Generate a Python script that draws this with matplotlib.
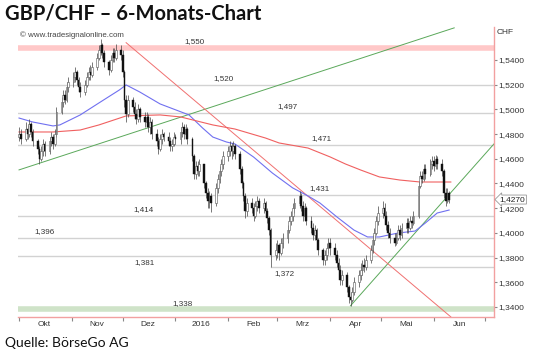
import pandas as pd
import numpy as np
import matplotlib.pyplot as plt
import matplotlib.dates as mdates
import matplotlib.transforms as mtransforms

# Tageskerzen GBP/CHF (Schlusskurs, Hoch, Tief), ab 1.10.2015, nur Handelstage
closes = [1.480, 1.476, 1.484, 1.480, 1.488, 1.482, 1.474, 1.468, 1.460, 1.466, 1.472,
          1.466, 1.474, 1.478, 1.472, 1.480, 1.498, 1.506, 1.512, 1.508, 1.518, 1.522,
          1.526, 1.530, 1.524, 1.518, 1.514, 1.520, 1.526, 1.530, 1.528, 1.534, 1.542,
          1.548, 1.552, 1.546, 1.538, 1.532, 1.540, 1.546, 1.542, 1.548, 1.544,
          1.530, 1.508, 1.496, 1.508, 1.502, 1.496, 1.492, 1.500, 1.494, 1.490, 1.494,
          1.486, 1.490, 1.480, 1.474, 1.468, 1.476, 1.480, 1.478, 1.474, 1.470, 1.472, 1.478,
          1.476, 1.482, 1.486, 1.480, 1.484, 1.476, 1.462, 1.448, 1.454, 1.450, 1.456,
          1.440, 1.432, 1.426, 1.430, 1.424, 1.436, 1.444, 1.450, 1.456, 1.462,
          1.466, 1.470, 1.466, 1.470, 1.464, 1.452, 1.440, 1.430, 1.418, 1.424, 1.420,
          1.414, 1.422, 1.426, 1.420, 1.424, 1.418, 1.412, 1.402, 1.382, 1.386,
          1.390, 1.384, 1.392, 1.396, 1.402, 1.410, 1.414, 1.420, 1.424, 1.430, 1.422,
          1.414, 1.420, 1.410, 1.404, 1.398, 1.402, 1.394, 1.386, 1.378, 1.382, 1.388, 1.392,
          1.388, 1.382, 1.376, 1.370, 1.362, 1.366, 1.356, 1.348, 1.346, 1.352, 1.360,
          1.366, 1.370, 1.374, 1.372, 1.378, 1.386, 1.394, 1.400, 1.410, 1.416,
          1.420, 1.414, 1.406, 1.400, 1.396, 1.392, 1.396, 1.402, 1.398, 1.404, 1.408,
          1.404, 1.410, 1.408, 1.414, 1.438, 1.446, 1.444, 1.452, 1.448, 1.456, 1.458,
          1.454, 1.460, 1.456, 1.450, 1.432, 1.426, 1.432, 1.427]
highs = [1.486, 1.484, 1.490, 1.487, 1.492, 1.490, 1.484, 1.476, 1.470, 1.470, 1.476,
         1.474, 1.478, 1.482, 1.480, 1.484, 1.502, 1.510, 1.516, 1.516, 1.522, 1.526,
         1.530, 1.534, 1.532, 1.526, 1.522, 1.524, 1.530, 1.534, 1.536, 1.538, 1.546,
         1.552, 1.557, 1.554, 1.548, 1.540, 1.544, 1.550, 1.550, 1.553, 1.552,
         1.548, 1.532, 1.512, 1.512, 1.510, 1.506, 1.500, 1.504, 1.502, 1.498, 1.498,
         1.496, 1.494, 1.492, 1.484, 1.478, 1.480, 1.484, 1.482, 1.482, 1.478, 1.476, 1.482,
         1.480, 1.486, 1.490, 1.488, 1.488, 1.486, 1.478, 1.464, 1.458, 1.458, 1.460,
         1.456, 1.442, 1.436, 1.434, 1.432, 1.440, 1.448, 1.454, 1.460, 1.466,
         1.470, 1.474, 1.473, 1.474, 1.472, 1.466, 1.454, 1.442, 1.432, 1.428, 1.428,
         1.424, 1.426, 1.430, 1.428, 1.428, 1.426, 1.420, 1.414, 1.404, 1.392,
         1.394, 1.392, 1.396, 1.400, 1.406, 1.414, 1.418, 1.424, 1.428, 1.434, 1.432,
         1.426, 1.424, 1.422, 1.414, 1.408, 1.406, 1.404, 1.396, 1.388, 1.386, 1.392, 1.396,
         1.396, 1.392, 1.386, 1.380, 1.374, 1.370, 1.368, 1.358, 1.352, 1.356, 1.364,
         1.370, 1.376, 1.378, 1.380, 1.382, 1.390, 1.398, 1.404, 1.414, 1.422,
         1.426, 1.424, 1.418, 1.410, 1.404, 1.400, 1.400, 1.406, 1.406, 1.408, 1.412,
         1.412, 1.414, 1.414, 1.418, 1.442, 1.450, 1.450, 1.456, 1.456, 1.460, 1.462,
         1.462, 1.463, 1.462, 1.460, 1.452, 1.436, 1.436, 1.434]
lows = [1.474, 1.472, 1.474, 1.476, 1.478, 1.478, 1.470, 1.464, 1.456, 1.458, 1.462,
        1.462, 1.464, 1.470, 1.468, 1.470, 1.478, 1.496, 1.502, 1.504, 1.506, 1.514,
        1.518, 1.522, 1.520, 1.514, 1.510, 1.512, 1.518, 1.524, 1.524, 1.526, 1.532,
        1.540, 1.544, 1.542, 1.534, 1.528, 1.530, 1.538, 1.538, 1.540, 1.540,
        1.526, 1.502, 1.490, 1.494, 1.498, 1.492, 1.488, 1.490, 1.490, 1.486, 1.486,
        1.482, 1.480, 1.476, 1.470, 1.464, 1.466, 1.472, 1.474, 1.470, 1.466, 1.466, 1.470,
        1.472, 1.472, 1.478, 1.476, 1.476, 1.472, 1.458, 1.444, 1.444, 1.446, 1.446,
        1.436, 1.428, 1.420, 1.420, 1.417, 1.422, 1.432, 1.440, 1.446, 1.452,
        1.458, 1.462, 1.460, 1.462, 1.460, 1.448, 1.436, 1.426, 1.412, 1.414, 1.416,
        1.410, 1.412, 1.418, 1.416, 1.416, 1.414, 1.408, 1.398, 1.372, 1.378,
        1.380, 1.378, 1.382, 1.388, 1.392, 1.400, 1.406, 1.410, 1.416, 1.420, 1.418,
        1.410, 1.410, 1.406, 1.400, 1.394, 1.394, 1.390, 1.382, 1.374, 1.374, 1.378, 1.384,
        1.382, 1.378, 1.372, 1.366, 1.358, 1.358, 1.352, 1.343, 1.341, 1.344, 1.350,
        1.356, 1.362, 1.366, 1.368, 1.370, 1.376, 1.384, 1.390, 1.398, 1.406,
        1.412, 1.410, 1.402, 1.396, 1.392, 1.389, 1.390, 1.394, 1.394, 1.396, 1.400,
        1.400, 1.402, 1.404, 1.406, 1.412, 1.436, 1.440, 1.442, 1.444, 1.446, 1.452,
        1.450, 1.452, 1.452, 1.446, 1.428, 1.422, 1.424, 1.424]
first_open = 1.478

# Gleitende Durchschnitte
blue_dates = ['2015-10-01', '2015-10-09', '2015-10-21', '2015-10-25', '2015-11-06', '2015-11-17',
              '2015-11-29', '2015-12-03', '2015-12-11', '2015-12-23', '2016-01-09', '2016-01-17',
              '2016-01-23', '2016-01-31', '2016-02-05', '2016-02-16', '2016-02-27', '2016-03-10',
              '2016-03-19', '2016-03-26', '2016-04-05', '2016-04-15', '2016-04-23', '2016-04-30',
              '2016-05-11', '2016-05-21', '2016-05-27', '2016-06-03', '2016-06-10']
blue_vals = [1.4930, 1.4898, 1.4866, 1.4874, 1.4955, 1.5052, 1.5157, 1.5198, 1.5141, 1.5044,
             1.4955, 1.4849, 1.4776, 1.4736, 1.4720, 1.4614, 1.4485, 1.4364, 1.4299, 1.4242,
             1.4129, 1.4023, 1.3967, 1.3967, 1.3999, 1.4015, 1.4080, 1.4161, 1.4185]
red_dates = ['2015-10-01', '2015-10-21', '2015-11-06', '2015-11-17', '2015-12-03', '2015-12-23',
             '2016-01-04', '2016-01-23', '2016-02-05', '2016-02-23', '2016-03-02', '2016-03-19',
             '2016-04-01', '2016-04-10', '2016-04-19', '2016-04-30', '2016-05-12', '2016-05-24',
             '2016-06-11']
red_vals = [1.4817, 1.4817, 1.4833, 1.4874, 1.4947, 1.4955, 1.4939, 1.4874, 1.4841, 1.4768,
            1.4728, 1.4687, 1.4615, 1.4558, 1.4509, 1.4453, 1.4428, 1.4412, 1.4412]

# Marken
levels = [1.520, 1.497, 1.471, 1.431, 1.414, 1.396, 1.381, 1.372]
resist_band = 1.550
support_band = 1.338
green_long = (['2015-10-01', '2016-06-13'], [1.451, 1.566])
green_short = (['2016-04-13', '2016-07-07'], [1.341, 1.473])
red_trend = (['2015-12-03', '2016-06-11'], [1.554, 1.332])
last_price = 1.4270
month_names = ['Okt', 'Nov', 'Dez', '2016', 'Feb', 'Mrz', 'Apr', 'Mai', 'Jun']

# Beschriftungsorte der Marken
level_text = {1.550: ('2016-01-12', 'above'), 1.520: ('2016-01-29', 'above'),
              1.497: ('2016-03-07', 'above'), 1.471: ('2016-03-27', 'above'),
              1.431: ('2016-03-26', 'above'), 1.414: ('2015-12-13', 'above'),
              1.396: ('2015-10-16', 'above'), 1.381: ('2015-12-14', 'below'),
              1.372: ('2016-03-05', 'below'), 1.338: ('2016-01-05', 'above')}
level_start = {1.372: '2016-02-26'}

def fmt(v, nd=3):
    return f"{v:.{nd}f}".replace('.', ',')

dates = pd.bdate_range('2015-10-01', periods=len(closes))
xd = mdates.date2num(dates)
opens = [first_open] + closes[:-1]

fig = plt.figure(figsize=(5.36, 3.57), dpi=100)
fig.patch.set_facecolor('white')
ax = fig.add_axes([18/536, 40/357, 476/536, 290/357])

x0 = mdates.date2num(pd.Timestamp('2015-10-01')) - 0.6
x1 = x0 + 280
ax.set_xlim(x0, x1)
ax.set_ylim(1.3319, 1.5667)

# Bänder und Linien
ax.axhline(resist_band, color='#ffc8c8', lw=4, zorder=1)
ax.axhline(support_band, color='#cfe3c8', lw=4, zorder=1)
for lv in levels:
    if lv in level_start:
        ax.plot([mdates.date2num(pd.Timestamp(level_start[lv])), x1], [lv, lv],
                color='#d2d2d2', lw=1, zorder=1)
    else:
        ax.axhline(lv, color='#d2d2d2', lw=1, zorder=1)

ax.plot(mdates.date2num(pd.to_datetime(green_long[0])), green_long[1], color='#5aa85a', lw=0.7, zorder=2)
ax.plot(mdates.date2num(pd.to_datetime(green_short[0])), green_short[1], color='#5aa85a', lw=0.7, zorder=2)
ax.plot(mdates.date2num(pd.to_datetime(red_trend[0])), red_trend[1], color='#f07070', lw=0.7, zorder=2)

ax.plot(mdates.date2num(pd.to_datetime(blue_dates)), blue_vals, color='#7070f0', lw=0.8, zorder=3)
ax.plot(mdates.date2num(pd.to_datetime(red_dates)), red_vals, color='#f06060', lw=0.8, zorder=3)

# Kerzen
ax.vlines(xd, lows, highs, color='#444444', lw=0.5, zorder=4)
o = np.array(opens)
c = np.array(closes)
up = c >= o
body_lo = np.minimum(o, c)
body_h = np.maximum(np.abs(c - o), 0.0008)
ax.bar(xd[up], body_h[up], bottom=body_lo[up], width=1.0, color='white',
       edgecolor='#555555', linewidth=0.4, zorder=5)
ax.bar(xd[~up], body_h[~up], bottom=body_lo[~up], width=1.0, color='#111111',
       edgecolor='#111111', linewidth=0.3, zorder=5)

# Beschriftung der Marken
for lv, (d, pos) in level_text.items():
    dy = 2 if pos == 'above' else -2
    ax.annotate(fmt(lv), (mdates.date2num(pd.Timestamp(d)), lv), xytext=(0, dy),
                textcoords='offset points', ha='center',
                va='bottom' if pos == 'above' else 'top',
                fontsize=5.8, color='#333333', family='Liberation Sans', zorder=6)

# Achsen
for s in ['left', 'top']:
    ax.spines[s].set_visible(False)
for s in ['right', 'bottom']:
    ax.spines[s].set_color('#f2a0a0')
    ax.spines[s].set_linewidth(1)

ax.yaxis.tick_right()
yt = np.arange(1.34, 1.5401, 0.02)
ax.set_yticks(yt)
ax.set_yticklabels([fmt(v, 4) for v in yt])
ax.tick_params(axis='y', labelsize=6, labelcolor='#333333', length=2, color='#888888', pad=1)
for t in ax.get_yticklabels():
    t.set_family('Liberation Sans')

month_starts = pd.date_range('2015-10-01', '2016-07-01', freq='MS')
ax.set_xticks(mdates.date2num(month_starts))
ax.set_xticklabels([])
mids = month_starts[:-1] + pd.Timedelta(days=15)
ax.set_xticks(mdates.date2num(mids), minor=True)
ax.set_xticklabels(month_names, minor=True)
ax.tick_params(axis='x', which='major', length=3, color='#888888')
ax.tick_params(axis='x', which='minor', length=0, labelsize=6, labelcolor='#333333', pad=3)
for t in ax.get_xticklabels(minor=True):
    t.set_family('Liberation Sans')

trans = mtransforms.blended_transform_factory(ax.transAxes, ax.transData)
ax.text(1.012, last_price, fmt(last_price, 4), transform=trans, fontsize=6, va='center',
        ha='left', color='#222222', family='Liberation Sans',
        bbox=dict(boxstyle='larrow,pad=0.12', fc='white', ec='#999999', lw=0.6))

fig.text(497/536, 1 - 33/357, 'CHF', fontsize=6, color='#333333', va='center',
         family='Liberation Sans')
fig.text(20/536, 1 - 35/357, '© www.tradesignalonline.com', fontsize=5.7, color='#444444',
         va='center', family='Liberation Sans')
fig.text(5/536, 1 - 14/357, 'GBP/CHF – 6-Monats-Chart', fontsize=14.5, fontweight='bold',
         va='center', family='Lato', color='#111111')
fig.text(5/536, 1 - 343/357, 'Quelle: BörseGo AG', fontsize=10, va='center',
         family='Lato', color='#111111')

fig.savefig('out.png', dpi=100)
